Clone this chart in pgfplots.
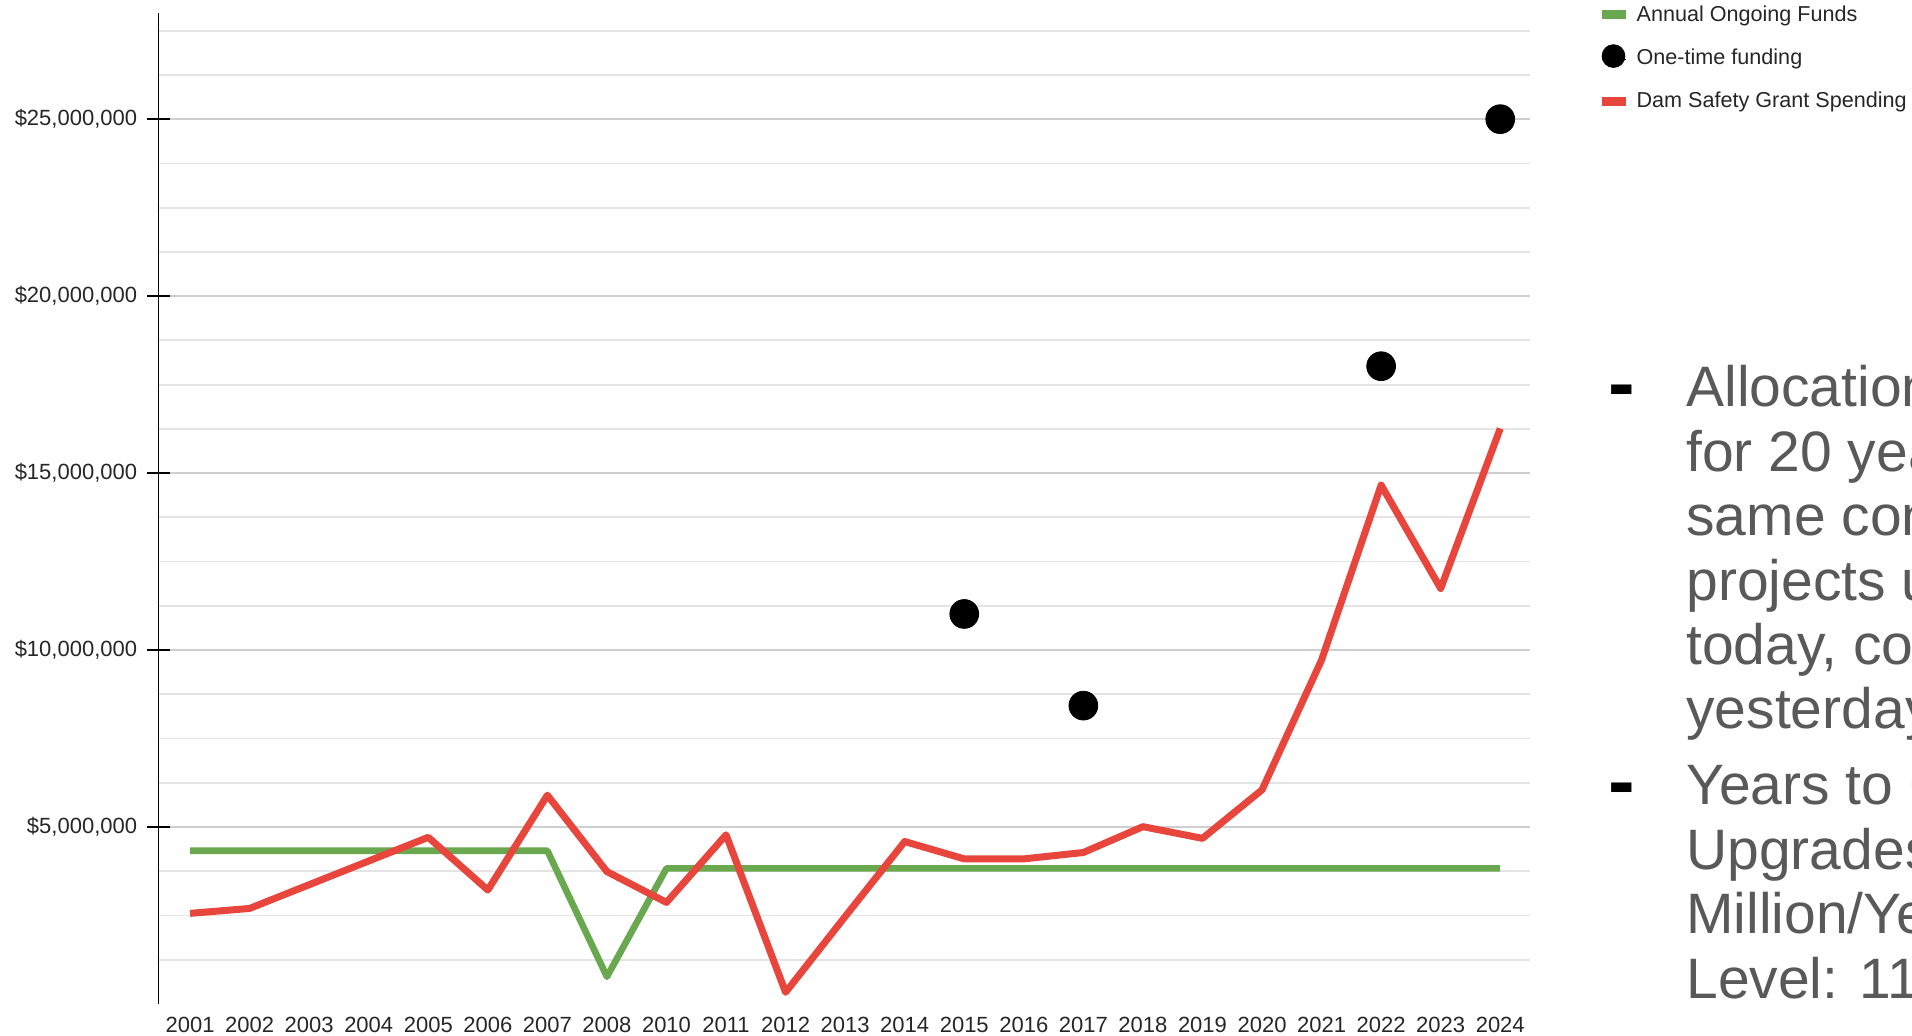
\documentclass[border=0pt]{standalone}
\usepackage{fontspec}
\setmainfont{Liberation Sans}
\usepackage{pgfplots}
\usepackage{pgfplotstable}
\pgfplotsset{compat=1.18}
\definecolor{gfund}{HTML}{6AA84F}
\definecolor{rspend}{HTML}{E8453C}
\definecolor{txtgray}{HTML}{595959}
\definecolor{lblgray}{HTML}{262626}
\definecolor{gridmaj}{HTML}{CFCFCF}
\definecolor{gridmin}{HTML}{E4E4E4}

% x: 0=2001 ... 7=2008, 8=2010 ... 22=2024 ; values in $ millions
\pgfplotstableread{
x y
0 4.33
1 4.33
2 4.33
3 4.33
4 4.33
5 4.33
6 4.33
7 0.77
8 3.83
9 3.83
10 3.83
11 3.83
12 3.83
13 3.83
14 3.83
15 3.83
16 3.83
17 3.83
18 3.83
19 3.83
20 3.83
21 3.83
22 3.83
}\fundtable

\pgfplotstableread{
x y
13 11.02
15 8.43
20 18.02
22 25.00
}\onetimetable

\pgfplotstableread{
x y
0 2.56
1 2.70
2 3.37
3 4.04
4 4.71
5 3.22
6 5.90
7 3.74
8 2.87
9 4.78
10 0.33
11 2.47
12 4.59
13 4.10
14 4.10
15 4.28
16 5.01
17 4.68
18 6.05
19 9.72
20 14.66
21 11.74
22 16.26
}\spendtable

\begin{document}
\begin{tikzpicture}
\useasboundingbox (0,0) rectangle (956pt,518pt);
\clip (0,0) rectangle (956pt,518pt);
\begin{axis}[
  at={(79.25pt,16pt)}, anchor=south west,
  scale only axis, width=685.75pt, height=495.5pt,
  xmin=-0.53, xmax=22.5, ymin=0, ymax=28,
  axis y line=left, axis x line=bottom,
  axis line style={-},
  x axis line style={draw=none},
  y axis line style={black, line width=0.9pt},
  xtick={0,...,22},
  xticklabels={2001,2002,2003,2004,2005,2006,2007,2008,2010,2011,2012,2013,2014,2015,2016,2017,2018,2019,2020,2021,2022,2023,2024},
  xtick style={draw=none},
  xticklabel style={font=\fontsize{11pt}{13pt}\selectfont, text=lblgray, inner sep=0pt, anchor=north, yshift=-0.8pt},
  ytick={5,10,15,20,25},
  yticklabels={{\$5,000,000},{\$10,000,000},{\$15,000,000},{\$20,000,000},{\$25,000,000}},
  yticklabel style={font=\fontsize{11pt}{13pt}\selectfont, text=lblgray, inner sep=0pt, anchor=east, xshift=-5pt},
  minor ytick={1.25,2.5,3.75,6.25,7.5,8.75,11.25,12.5,13.75,16.25,17.5,18.75,21.25,22.5,23.75,26.25,27.5},
  tick align=center,
  major tick length=11pt,
  minor tick length=0pt,
  ytick style={black, line width=0.9pt},
  ymajorgrids, yminorgrids,
  major grid style={gridmaj, line width=0.9pt},
  minor grid style={gridmin, line width=0.9pt},
  clip=false,
  legend style={at={(1.04958,1.00888)}, anchor=north west, draw=none, fill=none,
    inner sep=0pt, outer sep=0pt, row sep=10.2pt,
    font=\fontsize{10.8pt}{13pt}\selectfont, text=lblgray,
    nodes={inner sep=0pt, text height=8.5pt, text depth=3pt},
    /tikz/every odd column/.append style={column sep=3.8pt}},
  legend cell align=left,
]
\addplot[gfund, line width=3.3pt, line join=round, mark=none,
  legend image code/.code={\path (0pt,0pt) -- (12pt,0pt);\draw[overlay, gfund, line width=2.3pt] (0pt,1.5pt) -- (12pt,1.5pt);}]
  table[x=x,y=y] {\fundtable};
\addlegendentry{Annual Ongoing Funds}
\addplot[only marks, mark=*, mark size=7.2pt, black,
  legend image code/.code={\path (0pt,0pt) -- (12pt,0pt);\fill[overlay, black] (6pt,1.5pt) circle (5.7pt);}]
  table[x=x,y=y] {\onetimetable};
\addlegendentry{One-time funding}
\addplot[rspend, line width=3.5pt, line join=round, mark=none,
  legend image code/.code={\path (0pt,0pt) -- (12pt,0pt);\draw[overlay, rspend, line width=2.3pt] (0pt,1.5pt) -- (12pt,1.5pt);}]
  table[x=x,y=y] {\spendtable};
\addlegendentry{Dam Safety Grant Spending}
\end{axis}

% slide text at right (cut off by the picture edge, as in the reference)
\begin{scope}[every node/.style={anchor=base west, inner sep=0pt, text=txtgray,
    font=\fontsize{28.5pt}{32.2pt}\selectfont}]
\node at (843pt,314.5pt) {Allocation has stayed flat};
\node at (843pt,282.3pt) {for 20 years, while the};
\node at (843pt,250.1pt) {same construction};
\node at (843pt,217.9pt) {projects undertaken};
\node at (843pt,185.7pt) {today, cost more than};
\node at (843pt,153.5pt) {yesterday};
\node at (843pt,115.5pt) {Years to Complete};
\node at (843pt,83.3pt) {Upgrades at \$3.8};
\node at (843pt,51.1pt) {Million/Year Funding};
\node at (843pt,18.9pt) {Level: 110+};
\end{scope}
\node[anchor=base, inner sep=0pt, font=\fontsize{40pt}{44pt}\selectfont\bfseries] at (810.8pt,312.6pt) {-};
\node[anchor=base, inner sep=0pt, font=\fontsize{40pt}{44pt}\selectfont\bfseries] at (810.8pt,113.6pt) {-};
\end{tikzpicture}
\end{document}
